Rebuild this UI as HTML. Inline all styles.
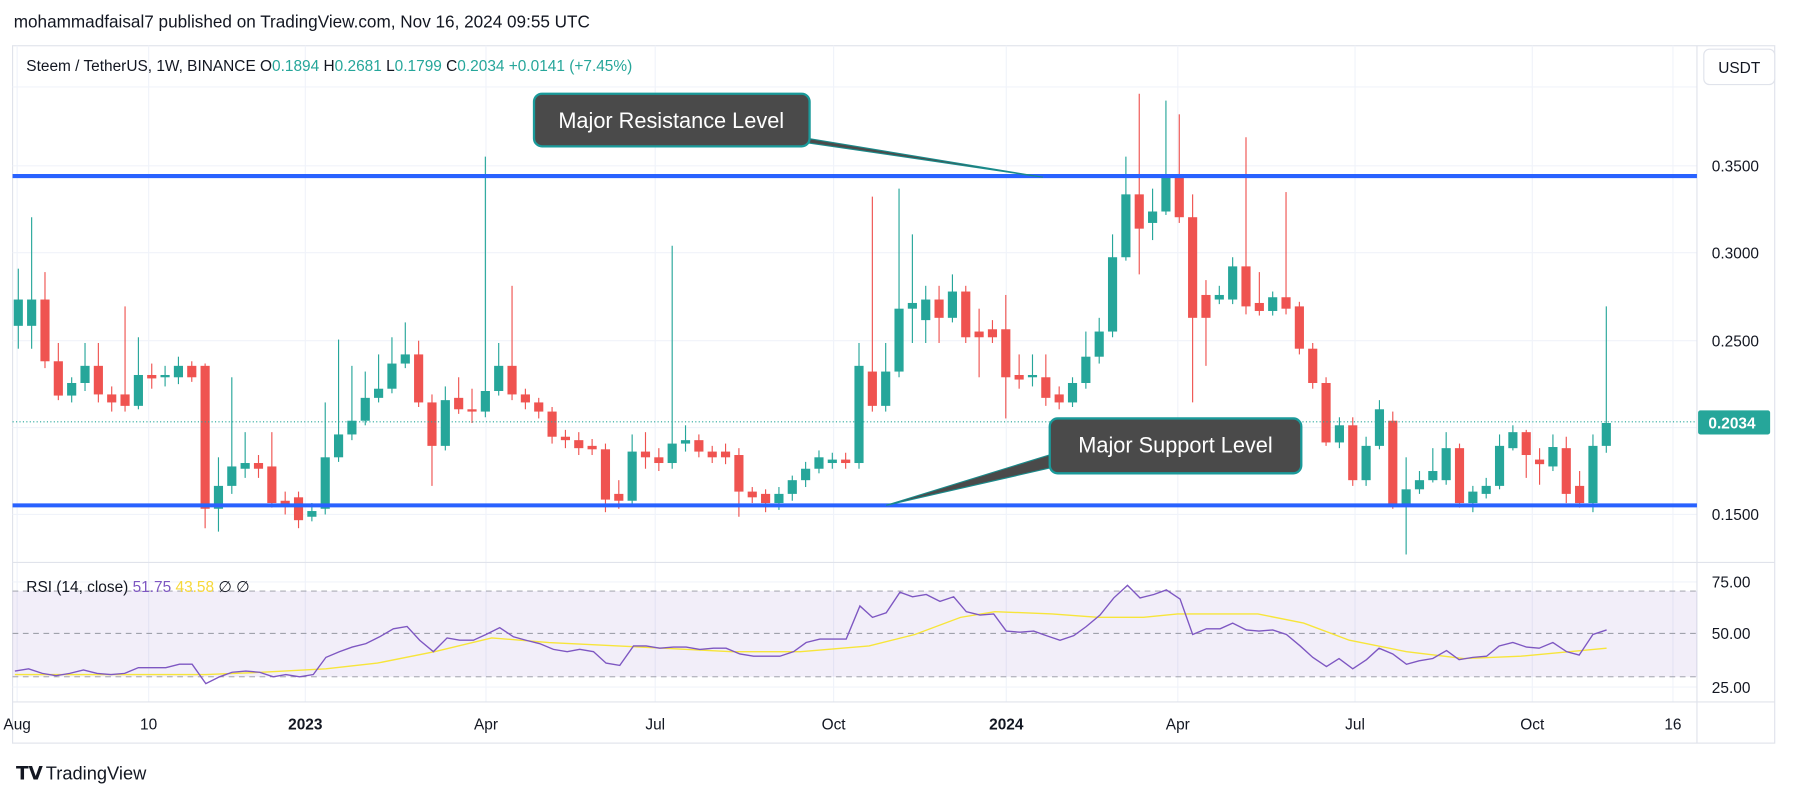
<!DOCTYPE html>
<html><head><meta charset="utf-8"><style>
html,body{margin:0;padding:0;background:#fff;}
svg{display:block;font-family:"Liberation Sans",sans-serif;}
</style></head><body>
<svg id="s" width="1793" height="798" viewBox="0 0 1568 698" preserveAspectRatio="none" xmlns="http://www.w3.org/2000/svg">
<rect width="1568" height="698" fill="#fff"/>
<text x="12" y="24" font-size="15" fill="#131722">mohammadfaisal7 published on TradingView.com, Nov 16, 2024 09:55 UTC</text>
<rect x="11" y="40" width="1541" height="610" fill="#fff" stroke="#e0e3eb"/>
<g stroke="#f0f3fa" stroke-width="1" id="grid">
<line x1="11" y1="145" x2="1484" y2="145"/><line x1="11" y1="221" x2="1484" y2="221"/><line x1="11" y1="298" x2="1484" y2="298"/><line x1="11" y1="374" x2="1484" y2="374"/><line x1="11" y1="450" x2="1484" y2="450"/>
<line x1="11" y1="76" x2="1484" y2="76"/>
<line x1="11" y1="509" x2="1484" y2="509"/><line x1="11" y1="601" x2="1484" y2="601"/>
</g>
<g stroke="#f0f3fa" id="vgrid"></g>
<line x1="11" y1="492" x2="1552" y2="492" stroke="#e0e3eb"/>
<line x1="11" y1="614" x2="1552" y2="614" stroke="#e0e3eb"/>
<line x1="1484" y1="40" x2="1484" y2="650" stroke="#e0e3eb"/>
<rect x="11" y="517" width="1473" height="75" fill="#7e57c2" fill-opacity="0.1"/>
<g stroke="#9598a1" stroke-dasharray="5,4" stroke-width="0.8">
<line x1="11" y1="517" x2="1484" y2="517"/><line x1="11" y1="554" x2="1484" y2="554"/><line x1="11" y1="592" x2="1484" y2="592"/>
</g>
<g id="c"></g>
<line x1="11" y1="369" x2="1484" y2="369" stroke="#26a69a" stroke-dasharray="1,2"/>
<line x1="11" y1="154" x2="1484" y2="154" stroke="#2962ff" stroke-width="3.5"/>
<line x1="11" y1="442" x2="1484" y2="442" stroke="#2962ff" stroke-width="3.5"/>
<polygon points="688,118 700,124 912,155" fill="#4a4a4a" stroke="#1a8a8a" stroke-width="1"/>
<rect x="467" y="82" width="241" height="46" rx="7" fill="#4a4a4a" stroke="#1a9a9a" stroke-width="2"/>
<text x="587" y="112" font-size="19" fill="#fff" text-anchor="middle">Major Resistance Level</text>
<polygon points="924,396 924,408 775,442" fill="#4a4a4a" stroke="#1a8a8a" stroke-width="1"/>
<rect x="918" y="366" width="220" height="48" rx="7" fill="#4a4a4a" stroke="#1a9a9a" stroke-width="2"/>
<text x="1028" y="396" font-size="19" fill="#fff" text-anchor="middle">Major Support Level</text>
<polyline id="ma" fill="none" stroke="#f7e53a" stroke-width="1.2"/>
<polyline id="rsi" fill="none" stroke="#7e57c2" stroke-width="1.2"/>
<text x="23" y="62" font-size="13.5" fill="#131722">Steem / TetherUS, 1W, BINANCE  O<tspan fill="#26a69a">0.1894</tspan>  H<tspan fill="#26a69a">0.2681</tspan>  L<tspan fill="#26a69a">0.1799</tspan>  C<tspan fill="#26a69a">0.2034  +0.0141 (+7.45%)</tspan></text>
<text x="23" y="518" font-size="13.5" fill="#131722">RSI (14, close)  <tspan fill="#7e57c2">51.75</tspan>  <tspan fill="#f7d83a">43.58</tspan>  ∅  ∅</text>
<rect x="1490" y="43" width="62" height="31" rx="5" fill="#fff" stroke="#e0e3eb"/>
<text x="1521" y="64" font-size="13.5" fill="#131722" text-anchor="middle">USDT</text>
<g font-size="13.5" fill="#131722">
<text x="1497" y="150">0.3500</text><text x="1497" y="226">0.3000</text><text x="1497" y="303">0.2500</text><text x="1497" y="455">0.1500</text>
<text x="1497" y="514">75.00</text><text x="1497" y="559">50.00</text><text x="1497" y="606">25.00</text>
</g>
<rect x="1485" y="359" width="63" height="21" rx="2" fill="#26a69a"/>
<text x="1494" y="375" font-size="13.5" fill="#fff" font-weight="bold">0.2034</text>
<g font-size="13.5" fill="#131722" text-anchor="middle">
<text x="15" y="638">Aug</text><text x="130" y="638">10</text><text x="267" y="638" font-weight="bold">2023</text><text x="425" y="638">Apr</text><text x="573" y="638">Jul</text><text x="729" y="638">Oct</text><text x="880" y="638" font-weight="bold">2024</text><text x="1030" y="638">Apr</text><text x="1185" y="638">Jul</text><text x="1340" y="638">Oct</text><text x="1463" y="638">16</text>
</g>
<text x="14" y="682" font-size="16" font-weight="bold" fill="#131722">𝗧𝗩</text>
<text x="40" y="682" font-size="16" fill="#131722">TradingView</text>
</svg>
<script>
var ns="http://www.w3.org/2000/svg";
var vg=document.getElementById('vgrid');
[15,130,267,425,573,729,880,1030,1185,1340,1463].forEach(function(x){var l=document.createElementNS(ns,'line');l.setAttribute('x1',x);l.setAttribute('x2',x);l.setAttribute('y1',40);l.setAttribute('y2',614);vg.appendChild(l);});
var d="g 262 285 235 305|g 262 285 190 305|r 262 316 238 322|r 316 346 300 350|g 335 346 330 352|g 320 335 300 342|r 320 345 300 352|r 345 352 338 360|r 345 355 268 360|g 328 355 295 358|r 328 331 318 340|g 328 330 320 338|g 320 330 312 336|r 320 330 316 334|r 320 445 318 462|g 425 445 400 465|g 408 425 330 432|g 405 410 378 418|r 405 410 398 418|r 408 440 378 444|r 438 442 430 450|r 435 455 430 462|g 447 452 440 456|g 400 445 352 450|g 380 400 297 404|g 368 380 320 385|g 348 368 325 372|g 340 348 310 352|g 318 340 295 344|g 310 318 282 322|r 310 352 298 356|r 352 390 345 425|g 350 390 338 394|r 348 358 330 362|r 358 360 340 370|g 342 360 137 365|g 320 342 300 346|r 320 345 250 350|r 345 352 340 358|r 352 360 348 366|r 360 382 356 388|r 382 385 376 392|r 385 392 378 398|r 390 393 384 398|r 393 437 388 448|r 432 438 420 445|g 395 438 380 442|r 395 400 378 410|r 400 405 392 412|g 388 405 215 410|g 385 388 372 395|r 385 395 380 400|r 395 400 390 405|r 395 400 388 406|r 398 430 392 452|r 430 435 426 440|r 432 440 428 448|g 432 440 426 446|g 420 432 416 438|g 410 420 404 426|g 400 410 394 414|g 402 405 396 410|r 402 405 396 410|g 320 405 300 410|r 325 355 172 360|g 325 355 300 360|g 270 325 165 330|g 265 270 205 300|g 262 280 250 300|r 262 278 250 300|g 255 278 240 282|r 255 295 250 300|r 290 295 270 330|r 288 295 280 300|r 288 330 258 366|r 328 332 310 340|g 328 330 310 338|r 330 348 310 355|r 345 352 338 358|g 335 352 330 356|g 312 335 290 340|g 290 312 278 318|g 225 290 205 295|g 170 225 137 228|r 170 200 82 240|g 185 195 165 210|g 155 185 88 188|r 155 190 100 195|r 190 278 170 352|r 258 278 245 320|g 258 262 250 266|g 233 262 225 266|r 233 268 120 275|r 265 272 238 276|g 260 272 255 276|r 260 270 168 275|r 268 305 264 310|r 305 335 300 340|r 335 387 330 390|g 372 387 365 392|r 372 420 365 425|g 390 420 382 425|g 358 390 350 393|r 368 442 360 445|g 428 442 400 485|g 420 428 412 432|g 412 420 392 422|g 392 420 378 424|r 392 440 388 444|g 430 440 425 448|g 425 432 418 436|g 390 425 380 428|g 378 392 372 394|r 378 398 376 418|r 402 406 392 424|g 391 408 380 412|r 392 432 382 440|r 425 440 412 444|g 390 440 380 448|g 370 390 268 396".split("|");
var c=document.getElementById('c');
d.forEach(function(s,i){var a=s.split(" ");var x=16+i*11.67;var col=a[0]=="g"?"#26a69a":"#ef5350";
var t=+a[1],b=+a[2],h=+a[3],l=+a[4];
var w=document.createElementNS(ns,'line');w.setAttribute('x1',x);w.setAttribute('x2',x);w.setAttribute('y1',Math.min(h,t));w.setAttribute('y2',Math.max(l,b));w.setAttribute('stroke',col);w.setAttribute('stroke-width',1);c.appendChild(w);
var r=document.createElementNS(ns,'rect');r.setAttribute('x',x-4);r.setAttribute('width',8);r.setAttribute('y',t);r.setAttribute('height',Math.max(1.5,b-t));r.setAttribute('fill',col);c.appendChild(r);});
var rs="13,587 25,585 37,589 49,591 61,589 73,586 85,589 97,590 109,589 121,584 133,584 145,584 157,581 168,581 180,598 192,592 203,588 215,587 227,588 239,592 250,590 262,592 274,590 285,575 297,570 308,566 320,563 332,557 344,550 356,548 367,560 379,570 391,558 402,560 414,560 425,555 437,549 449,557 460,560 472,563 484,568 496,570 507,568 519,570 530,580 542,582 554,565 565,565 577,567 589,566 600,566 612,568 624,567 635,567 647,572 659,574 670,574 682,574 694,570 705,562 717,559 729,559 740,559 752,530 763,540 775,536 787,518 798,522 810,520 822,526 834,522 845,535 857,538 869,537 880,552 892,553 904,552 915,556 927,560 939,556 950,548 962,538 974,523 986,512 997,523 1009,520 1020,516 1032,524 1043,555 1055,550 1067,550 1078,545 1090,551 1101,552 1113,551 1125,555 1137,565 1148,575 1160,583 1171,576 1183,585 1195,577 1206,567 1218,572 1230,581 1241,578 1253,576 1265,569 1276,577 1288,575 1300,574 1311,565 1323,562 1335,566 1346,567 1358,562 1370,570 1381,573 1393,555 1405,551";
document.getElementById('rsi').setAttribute('points',rs);
document.getElementById('ma').setAttribute('points',"13,590 180,590 230,588 285,585 330,580 380,570 430,558 480,562 560,566 640,570 700,570 760,565 800,555 840,540 870,535 920,537 960,540 1000,540 1030,537 1100,537 1140,545 1180,560 1230,570 1280,576 1330,574 1405,567");
</script>
</body></html>
